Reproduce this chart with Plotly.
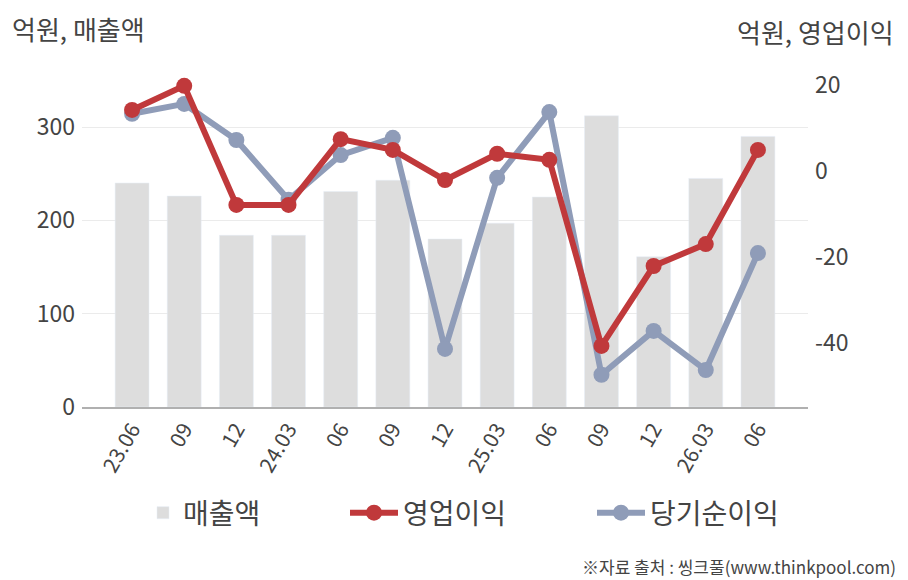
import plotly.graph_objects as go

# 분기 라벨
quarters = ["23.06", "09", "12", "24.03", "06", "09", "12", "25.03", "06", "09", "12", "26.03", "06"]
# 중복 라벨이 있어 내부 키는 따로 둔다
keys = [f"q{i}" for i in range(len(quarters))]

sales = [240, 226, 184, 184, 231, 243, 180, 197, 225, 312, 161, 245, 290]
op_profit = [14.2, 19.8, -7.9, -7.9, 7.4, 4.9, -2.1, 4.0, 2.6, -40.7, -22.1, -17.0, 4.9]
net_profit = [13.3, 15.6, 7.2, -6.7, 3.7, 7.7, -41.4, -1.6, 13.7, -47.4, -37.2, -46.3, -19.1]

left_ticks = [0, 100, 200, 300]
right_ticks = [-40, -20, 0, 20]

FONT = "Noto Sans CJK KR"
GREY_TXT = "#444444"
RED = "#c0393b"
BLUE = "#8f9cb8"

# 페이지 body 여백(8px)만큼 당겨서 배치
W, H = 900, 572
L, T = 74, 57
R = W - 800
B = H - 399
pw, ph = W - L - R, H - T - B


def px(xp, yp):
    return (xp - L) / pw, (H - B - yp) / ph


fig = go.Figure()

fig.add_trace(go.Bar(
    x=keys, y=sales, name="매출액",
    marker=dict(color="#dddddd"), width=0.65,
    legend="legend",
))

fig.add_trace(go.Scatter(
    x=keys, y=net_profit, name="당기순이익", yaxis="y2",
    mode="lines+markers",
    line=dict(color=BLUE, width=6),
    marker=dict(color=BLUE, size=16),
    legend="legend3",
))

fig.add_trace(go.Scatter(
    x=keys, y=op_profit, name="영업이익", yaxis="y2",
    mode="lines+markers",
    line=dict(color=RED, width=6),
    marker=dict(color=RED, size=16),
    legend="legend2",
))

leg_font = dict(size=28, color=GREY_TXT, family=FONT)
lx1, ly = px(135, 505)
lx2, _ = px(337, 505)
lx3, _ = px(584, 505)

fig.update_layout(
    width=W, height=H,
    margin=dict(l=L, r=R, t=T, b=B, autoexpand=False),
    paper_bgcolor="white", plot_bgcolor="white",
    font=dict(family=FONT, color=GREY_TXT),
    showlegend=True,
    legend=dict(x=lx1, y=ly, xanchor="left", yanchor="middle", font=leg_font,
                itemwidth=30, bgcolor="rgba(0,0,0,0)"),
    legend2=dict(x=lx2, y=ly, xanchor="left", yanchor="middle", font=leg_font,
                 itemwidth=48, bgcolor="rgba(0,0,0,0)"),
    legend3=dict(x=lx3, y=ly, xanchor="left", yanchor="middle", font=leg_font,
                 itemwidth=48, bgcolor="rgba(0,0,0,0)"),
    xaxis=dict(
        type="category", range=[-0.96, 12.96],
        tickvals=keys, ticktext=quarters, tickangle=-60,
        tickfont=dict(size=21, color=GREY_TXT),
        showgrid=False, showline=True, linecolor="#b0b0b0", linewidth=1.5,
        ticks="",
    ),
    yaxis=dict(
        range=[0, 366.5], tickvals=left_ticks,
        ticktext=[str(v) for v in left_ticks],
        tickfont=dict(size=23, color=GREY_TXT),
        showgrid=True, gridcolor="#ebebeb", zeroline=False,
        ticks="", ticklabelstandoff=6,
    ),
    yaxis2=dict(
        overlaying="y", side="right",
        range=[-54.9, 24.65], tickvals=right_ticks,
        ticktext=[str(v) for v in right_ticks],
        tickfont=dict(size=23, color=GREY_TXT),
        showgrid=False, zeroline=False, ticks="",
        ticklabelstandoff=6,
    ),
)

x0, y0 = px(2, 20)
x1, y1 = px(888, 24)
x2, y2 = px(890, 558)
fig.update_layout(annotations=[
    dict(text="억원, 매출액", x=x0, y=y0, xref="paper", yref="paper",
         xanchor="left", yanchor="middle", showarrow=False,
         font=dict(size=26, color=GREY_TXT)),
    dict(text="억원, 영업이익", x=x1, y=y1, xref="paper", yref="paper",
         xanchor="right", yanchor="middle", showarrow=False,
         font=dict(size=26, color=GREY_TXT)),
    dict(text="※자료 출처 : 씽크풀(www.thinkpool.com)", x=x2, y=y2, xref="paper", yref="paper",
         xanchor="right", yanchor="middle", showarrow=False,
         font=dict(size=17, color=GREY_TXT)),
])

fig.write_html("out.html")
